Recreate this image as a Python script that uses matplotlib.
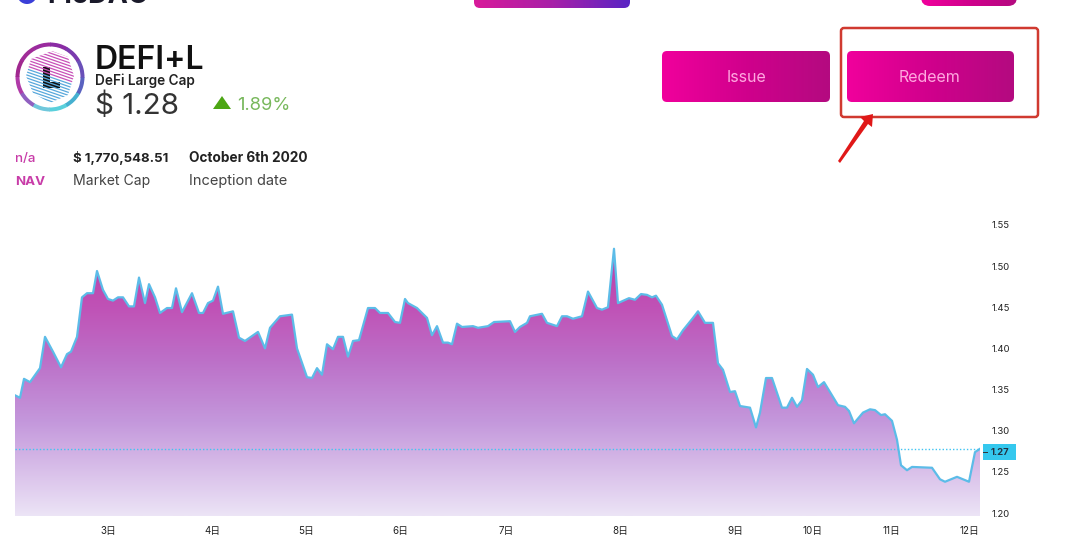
import numpy as np
import matplotlib
matplotlib.use("Agg")
import matplotlib.pyplot as plt
from matplotlib.colors import LinearSegmentedColormap
from matplotlib.patches import FancyBboxPatch, Polygon, Rectangle, Wedge, Circle

plt.rcParams['font.family'] = ['Inter', 'Noto Sans CJK SC', 'DejaVu Sans']

# bar index on the (non uniform) time axis, price in USD
bars = [0, 5, 9, 15, 25, 30, 38, 46, 52, 56, 62, 67, 72, 78, 82, 88, 93, 98, 103, 108,
        114, 119, 124, 130, 134, 140, 145, 152, 157, 161, 167, 177, 184, 188, 193, 198,
        203, 208, 218, 224, 230, 243, 250, 255, 265, 277, 282, 292, 297, 302, 307, 312,
        318, 323, 328, 333, 338, 344, 353, 360, 365, 373, 380, 385, 390, 393, 402, 412,
        417, 422, 428, 433, 437, 442, 447, 458, 463, 473, 479, 495, 500, 505, 512, 515,
        527, 532, 542, 547, 552, 558, 567, 573, 582, 587, 593, 599, 603, 614, 620, 626,
        632, 637, 641, 647, 657, 662, 668, 678, 683, 690, 698, 703, 708, 715, 720, 725,
        735, 741, 745, 751, 757, 767, 772, 777, 782, 787, 792, 798, 803, 809, 823, 830,
        834, 839, 848, 855, 860, 866, 870, 877, 882, 886, 892, 897, 917, 925, 930, 942,
        954, 960, 965]
prices = [1.343, 1.340, 1.363, 1.359, 1.376, 1.414, 1.396, 1.377, 1.393, 1.396, 1.414,
          1.462, 1.467, 1.467, 1.494, 1.471, 1.460, 1.458, 1.462, 1.462, 1.451, 1.451,
          1.486, 1.455, 1.478, 1.462, 1.443, 1.449, 1.449, 1.473, 1.444, 1.467, 1.443,
          1.443, 1.455, 1.458, 1.475, 1.442, 1.445, 1.413, 1.409, 1.420, 1.400, 1.425,
          1.439, 1.441, 1.400, 1.365, 1.364, 1.376, 1.368, 1.405, 1.399, 1.414, 1.414,
          1.390, 1.409, 1.410, 1.449, 1.449, 1.443, 1.443, 1.432, 1.431, 1.460, 1.455,
          1.449, 1.437, 1.416, 1.427, 1.407, 1.407, 1.405, 1.430, 1.426, 1.427, 1.425,
          1.427, 1.432, 1.433, 1.420, 1.426, 1.431, 1.439, 1.442, 1.431, 1.427, 1.439,
          1.439, 1.436, 1.439, 1.469, 1.449, 1.447, 1.450, 1.521, 1.455, 1.461, 1.459,
          1.466, 1.465, 1.462, 1.464, 1.453, 1.415, 1.411, 1.422, 1.437, 1.445, 1.431,
          1.431, 1.382, 1.374, 1.347, 1.348, 1.330, 1.328, 1.304, 1.322, 1.364, 1.364,
          1.328, 1.328, 1.340, 1.329, 1.337, 1.375, 1.368, 1.353, 1.359, 1.331, 1.329,
          1.324, 1.309, 1.322, 1.326, 1.325, 1.319, 1.320, 1.312, 1.289, 1.258, 1.252,
          1.256, 1.255, 1.241, 1.238, 1.244, 1.238, 1.274, 1.278]
day_bars = [93, 197, 291, 385, 491, 605, 720, 798, 876, 954]
day_labels = ['3日', '4日', '5日', '6日', '7日', '8日', '9日', '10日', '11日', '12日']
price_ticks = [1.20, 1.25, 1.30, 1.35, 1.40, 1.45, 1.50, 1.55]
last_price = 1.278

W, H = 1080, 549
fig = plt.figure(figsize=(W / 100, H / 100), dpi=100, facecolor='white')

# page furniture lives in a pixel-sized overlay
page = fig.add_axes([0, 0, 1, 1])
page.set_xlim(0, W)
page.set_ylim(H, 0)
page.axis('off')

pink = LinearSegmentedColormap.from_list('btn', ['#F0009C', '#D0008C', '#B40A80'])
violet = LinearSegmentedColormap.from_list('btn2', ['#D81A9A', '#A820A8', '#5A24C4'])


def button(x, y, w, h, radius=5, cmap=pink):
    box = FancyBboxPatch((x + radius, y + radius), w - 2 * radius, h - 2 * radius,
                         boxstyle=f'round,pad={radius},rounding_size={radius}',
                         fc='none', ec='none')
    page.add_patch(box)
    grad = np.linspace(0, 1, 100)[None, :]
    im = page.imshow(grad, extent=(x, x + w, y + h, y), cmap=cmap, aspect='auto', zorder=2)
    im.set_clip_path(box)


# cropped header
page.add_patch(Circle((27, -6), 10, fc='#3B3FD8', ec='none'))
page.text(47, 3, 'PieDAO', fontsize=19.5, fontweight='bold', color='#1a1a2a', va='baseline')
button(474, -20, 156, 28, radius=6, cmap=violet)
button(921, -20, 96, 26, radius=9)
page.set_xlim(0, W)
page.set_ylim(H, 0)

# logo
ring_cols = ['#5A62C0', '#45B0D0', '#5AD0DC', '#70C8DC', '#9060C0', '#B03AA8', '#A0288F', '#A02C98',
             '#9A2B9E', '#8A2CA4', '#7A3AAE', '#6A50B8']
for i, col in enumerate(ring_cols):
    page.add_patch(Wedge((50, 77), 34.5, i * 30, (i + 1) * 30 + 1, width=4, fc=col, ec='none'))
hexagon = np.array([(52, 51), (68, 57), (74, 76), (68, 95), (50, 103), (33, 93), (26, 76), (31, 59)])
stripes = Polygon(hexagon, closed=True, fc='white', ec='none')
page.add_patch(stripes)
for yy in range(44, 112, 3):
    ln, = page.plot([24, 76], [yy - 9, yy + 9], color='#C850B8' if yy < 76 else '#58A8DC', lw=0.9)
    ln.set_clip_path(stripes)
page.add_patch(Polygon([(50, 60), (61, 64), (65, 78), (61, 92), (46, 95), (36, 90), (33, 75), (39, 64)],
                       closed=True, fc='white', ec='none'))
page.add_patch(Polygon([(43, 67), (50, 67), (50, 82), (60, 82), (60, 88), (43, 88)],
                       closed=True, fc='#111111', ec='none'))

# heading block
page.text(94.5, 69, 'DEFI+L', fontsize=23, fontweight='semibold', color='#111111')
page.text(95, 85.5, 'DeFi Large Cap', fontsize=9.8, fontweight='semibold', color='#222222')
page.text(95, 114, '$ 1.28', fontsize=21.3, fontweight='normal', color='#333333')
page.add_patch(Polygon([(213, 109), (231, 109), (222, 96)], closed=True, fc='#4CA614', ec='none'))
page.text(237, 109.5, '1.89%', fontsize=13.2, fontweight='normal', color='#78B85C')

page.text(15, 162, 'n/a', fontsize=9.6, fontweight='medium', color='#C83CA8')
page.text(15, 185, 'NAV', fontsize=9.6, fontweight='bold', color='#C83CA8')
page.text(73, 162, '$ 1,770,548.51', fontsize=9.5, fontweight='bold', color='#222222')
page.text(73, 185, 'Market Cap', fontsize=10.1, color='#444444')
page.text(189, 162, 'October 6th 2020', fontsize=9.8, fontweight='bold', color='#222222')
page.text(189, 185, 'Inception date', fontsize=10.5, color='#444444')

# action buttons
button(662, 51, 168, 51)
button(847, 51, 167, 51)
page.text(746, 77, 'Issue', fontsize=11.5, color='#FFA8E0', ha='center', va='center', zorder=3)
page.text(930, 77, 'Redeem', fontsize=11.5, color='#FFA8E0', ha='center', va='center', zorder=3)
page.add_patch(FancyBboxPatch((841, 28), 197, 89, boxstyle='round,pad=0,rounding_size=3',
                              fc='none', ec='#D03A30', lw=1.8))
page.add_patch(Polygon([(838, 161), (840, 163), (868, 124), (872, 127), (873, 114), (860, 117), (864, 121)],
                       closed=True, fc='#E01818', ec='none'))
page.set_xlim(0, W)
page.set_ylim(H, 0)

# price chart
top, bottom, left, right = 215, 516, 15, 980
ax = fig.add_axes([left / W, 1 - bottom / H, (right - left) / W, (bottom - top) / H])
ax.patch.set_alpha(0)
ax.set_xlim(0, 965)
ax.set_ylim(1.1964, 1.562)
for side in ax.spines.values():
    side.set_visible(False)

area = LinearSegmentedColormap.from_list('area', [(0, '#B83FA8'), (0.22, '#C052B6'), (0.42, '#BC70C8'),
                                                  (0.65, '#C498DC'), (1, '#ECE4F6')])
fill = ax.fill_between(bars, prices, 1.1964, color='none', lw=0)
im = ax.imshow(np.linspace(0, 1, 256)[:, None], extent=(0, 965, 1.1964, 1.521), cmap=area,
               aspect='auto', origin='upper', zorder=1)
im.set_clip_path(fill.get_paths()[0], transform=ax.transData)
ax.set_xlim(0, 965)
ax.set_ylim(1.1964, 1.562)
ax.plot(bars, prices, color='#5CBCE8', lw=1.6, zorder=2, solid_joinstyle='round')
ax.axhline(last_price, color='#40C4F2', lw=1, ls=(0, (1, 1.5)), zorder=3)

ax.yaxis.tick_right()
ax.set_yticks(price_ticks, [f'{v:.2f}' for v in price_ticks])
ax.set_xticks(day_bars, day_labels)
ax.tick_params(axis='y', length=0, pad=8, labelsize=6.8, labelcolor='#222222')
ax.tick_params(axis='x', length=0, pad=7, labelsize=7, labelcolor='#222222')

page.add_patch(Rectangle((983, 444), 33, 16, fc='#35C8EE', ec='none'))
page.plot([983, 987], [452, 452], color='#333333', lw=0.7)
page.text(1000, 452.5, '1.27', fontsize=6.8, fontweight='bold', color='#223344', ha='center', va='center')
page.set_xlim(0, W)
page.set_ylim(H, 0)

fig.savefig('out.png', dpi=100)
plt.close(fig)
